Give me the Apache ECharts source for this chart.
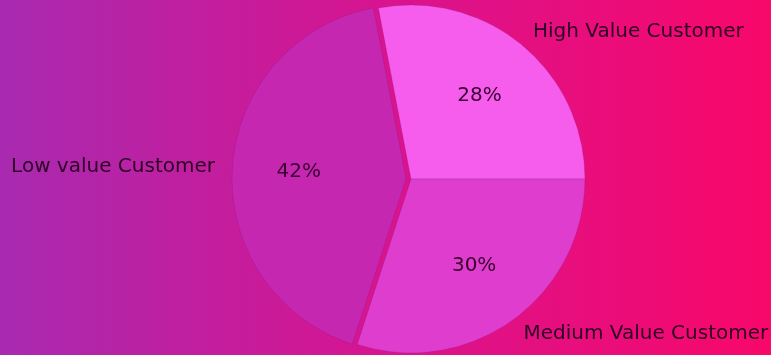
<!DOCTYPE html>
<html>
<head>
<meta charset="utf-8">
<script src="https://cdn.jsdelivr.net/npm/echarts@6/dist/echarts.min.js"></script>
<style>
html,body{margin:0;padding:0;}
#c{width:771px;height:355px;}
</style>
</head>
<body>
<div id="c"></div>
<script>
const categories = ["High Value Customer", "Low value Customer", "Medium Value Customer"];
const values = [28, 42, 30];
const sliceColors = ["#f65ded", "#c627b1", "#de3dcd"];
const explodedIndex = 1;

const R = 174;
const center = [411, 179];
const font = "DejaVu Sans";

const mainData = categories.map((c, i) => ({
  name: c, value: values[i], selected: i === explodedIndex,
  itemStyle: { color: sliceColors[i] }
}));
const pctData = categories.map((c, i) => ({
  name: c, value: values[i], selected: i === explodedIndex
}));

const chart = echarts.init(document.getElementById('c'), null, { renderer: 'canvas' });
chart.setOption({
  backgroundColor: {
    type: 'linear', x: 0, y: 0, x2: 1, y2: 0,
    colorStops: [
      { offset: 0, color: '#a82ab0' },
      { offset: 0.5, color: '#d8148f' },
      { offset: 1, color: '#f8086a' }
    ]
  },
  animation: false,
  series: [
    {
      type: 'pie',
      center: center,
      radius: [0, R],
      startAngle: 0,
      clockwise: false,
      selectedMode: 'single',
      selectedOffset: 5,
      avoidLabelOverlap: false,
      minShowLabelAngle: 0,
      itemStyle: { borderColor: 'rgba(120,20,110,0.35)', borderWidth: 0.6 },
      emphasis: { disabled: true },
      label: {
        show: true,
        position: 'outside',
        formatter: '{b}',
        color: '#2e0026',
        fontFamily: font,
        fontSize: 20,
        distanceToLabelLine: 0
      },
      labelLine: { show: false, length: R * 0.1, length2: 0 },
      data: mainData
    },
    {
      type: 'pie',
      center: center,
      radius: [0, R * 1.2],
      startAngle: 0,
      clockwise: false,
      selectedMode: 'single',
      selectedOffset: 5,
      silent: true,
      avoidLabelOverlap: false,
      itemStyle: { color: 'rgba(0,0,0,0)' },
      emphasis: { disabled: true },
      label: {
        show: true,
        position: 'inside',
        formatter: '{d}%',
        color: '#3a0030',
        fontFamily: font,
        fontSize: 20
      },
      labelLine: { show: false },
      data: pctData
    }
  ]
});
</script>
</body>
</html>
